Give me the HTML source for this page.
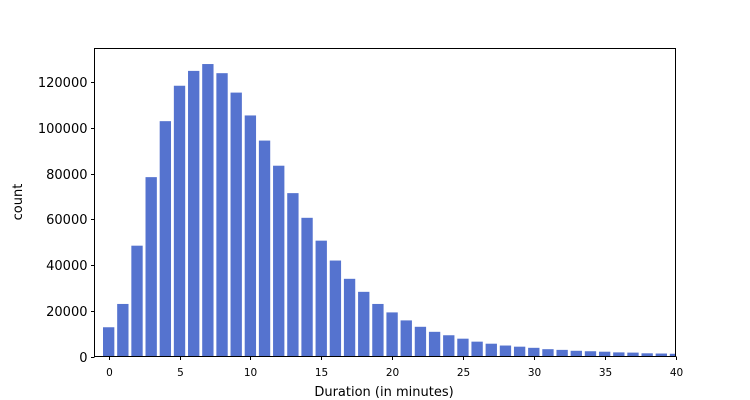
<!DOCTYPE html>
<html><head><meta charset="utf-8"><style>
html,body{margin:0;padding:0;background:#fff;}
svg{display:block;font-family:"DejaVu Sans","Liberation Sans",sans-serif;}
</style></head><body>
<svg id="chart" width="750" height="400" xmlns="http://www.w3.org/2000/svg">
<g id="bars"></g>
<g id="axes"></g>
<text x="384" y="396" font-size="13" text-anchor="middle">Duration (in minutes)</text>
<text transform="translate(22,202) rotate(-90)" font-size="13" text-anchor="middle">count</text>
</svg>
<script>
const categories = [0,1,2,3,4,5,6,7,8,9,10,11,12,13,14,15,16,17,18,19,20,21,22,23,24,25,26,27,28,29,30,31,32,33,34,35,36,37,38,39,40];
const counts = [12800,23000,48500,78500,103000,118500,125000,128000,124000,115500,105500,94500,83500,71500,60700,50700,42000,34000,28300,23000,19300,15800,13000,10800,9300,7800,6500,5600,4800,4300,3800,3200,2900,2500,2300,2100,1800,1700,1400,1300,1200];
const xTicks = [0,5,10,15,20,25,30,35,40];
const yTicks = [0,20000,40000,60000,80000,100000,120000];

const L=94.5,R=675.5,T=48.5,B=356.5;
const xMin=-1,xMax=40,yMax=134800;
const xs=v=>L+(v-xMin)/(xMax-xMin)*(R-L);
const ys=v=>B-v/yMax*(B-T);
const NS="http://www.w3.org/2000/svg";
const bars=document.getElementById('bars');
const axes=document.getElementById('axes');
const clip=document.createElementNS(NS,'clipPath');clip.id='c';
const cr=document.createElementNS(NS,'rect');
cr.setAttribute('x',L);cr.setAttribute('y',T);cr.setAttribute('width',R-L);cr.setAttribute('height',B-T);
clip.appendChild(cr);document.getElementById('chart').appendChild(clip);
bars.setAttribute('clip-path','url(#c)');
categories.forEach((c,i)=>{
  const r=document.createElementNS(NS,'rect');
  const x0=xs(c-0.4),x1=xs(c+0.4);
  r.setAttribute('x',x0);r.setAttribute('width',x1-x0);
  r.setAttribute('y',ys(counts[i]));r.setAttribute('height',ys(0)-ys(counts[i]));
  r.setAttribute('fill','#5573cf');
  
  
  bars.appendChild(r);
});
function line(x1,y1,x2,y2,name){
  const l=document.createElementNS(NS,'line');
  l.setAttribute('x1',x1);l.setAttribute('y1',y1);l.setAttribute('x2',x2);l.setAttribute('y2',y2);
  l.setAttribute('stroke','#000');l.setAttribute('stroke-width','1');
  
  
  axes.appendChild(l);
}
function text(x,y,s,anchor,size,name){
  const t=document.createElementNS(NS,'text');
  t.setAttribute('x',x);t.setAttribute('y',y);t.setAttribute('font-size',size);t.setAttribute('text-anchor',anchor);
  t.textContent=s;
  
  
  axes.appendChild(t);
}
const fr=document.createElementNS(NS,'rect');
fr.setAttribute('x',L);fr.setAttribute('y',T);fr.setAttribute('width',R-L);fr.setAttribute('height',B-T);
fr.setAttribute('fill','none');fr.setAttribute('stroke','#000');fr.setAttribute('stroke-width','1');


axes.appendChild(fr);
xTicks.forEach(v=>{const x=Math.round(xs(v))+0.5;line(x,B,x,B+3.5,'x-tick-'+v);text(x,B+19.5,String(v),'middle','10.5','x-tick-label-'+v);});
yTicks.forEach(v=>{const y=Math.round(ys(v))+0.5;line(L-3.5,y,L,y,'y-tick-'+v);text(L-7,y+4.5,String(v),'end','13','y-tick-label-'+v);});
</script>
</body></html>
